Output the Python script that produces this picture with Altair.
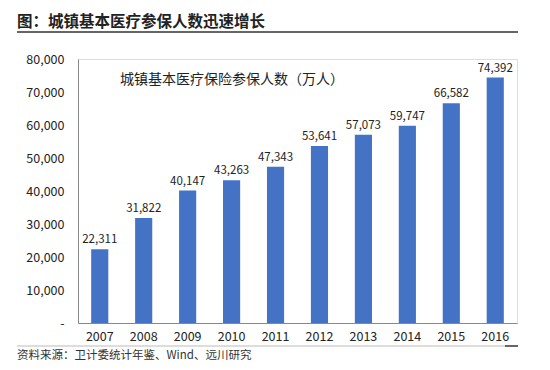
import altair as alt
import pandas as pd

years = ["2007", "2008", "2009", "2010", "2011", "2012", "2013", "2014", "2015", "2016"]
values = [22311, 31822, 40147, 43263, 47343, 53641, 57073, 59747, 66582, 74392]
y_ticks = [0, 10000, 20000, 30000, 40000, 50000, 60000, 70000, 80000]

title_text = "图：城镇基本医疗参保人数迅速增长"
inner_label = "城镇基本医疗保险参保人数（万人）"
source_text = "资料来源：卫计委统计年鉴、Wind、远川研究"

df = pd.DataFrame({"year": years, "value": values})

FONT = "Noto Sans CJK SC"
W, H = 439, 264
TOP = 51

x = alt.X("year:N", title=None, sort=years,
          scale=alt.Scale(paddingInner=0.61, paddingOuter=0.3),
          axis=alt.Axis(labelAngle=0, ticks=False, domainColor="#888888",
                        labelFontSize=12.5, labelColor="#222222", labelPadding=7,
                        labelFont=FONT))
y = alt.Y("value:Q", title=None,
          scale=alt.Scale(domain=[0, 80000]),
          axis=alt.Axis(values=y_ticks, ticks=False, grid=False, labelOverlap=False,
                        domainColor="#888888", labelFontSize=12.5,
                        labelColor="#222222", labelPadding=14, labelFont=FONT,
                        labelExpr="datum.value == 0 ? '-' : format(datum.value, ',')"))

base = alt.Chart(df).encode(x=x, y=y)
bars = base.mark_bar(color="#4472C4")
labels = base.mark_text(dy=-9, fontSize=11.5, color="#222222", font=FONT).encode(
    text=alt.Text("value:Q", format=","))

deco = pd.DataFrame({"t": [0]})
title = alt.Chart(deco).mark_text(align="left", baseline="middle", fontSize=15.5,
                                  fontWeight="bold", color="#222222", font=FONT).encode(
    x=alt.value(-61), y=alt.value(22 - 8 - TOP), text=alt.value(title_text))
underline = alt.Chart(deco).mark_rule(color="#333333", strokeWidth=1.5).encode(
    x=alt.value(-61), x2=alt.value(440), y=alt.value(32 - 8 - TOP))
inner = alt.Chart(deco).mark_text(align="left", baseline="middle", fontSize=14,
                                  color="#222222", font=FONT).encode(
    x=alt.value(42), y=alt.value(80 - 8 - TOP), text=alt.value(inner_label))
bottom_line = alt.Chart(deco).mark_rule(color="#bbbbbb", strokeWidth=1).encode(
    x=alt.value(-61), x2=alt.value(427), y=alt.value(346 - 8 - TOP))
bottom_mark = alt.Chart(deco).mark_rule(color="#333333", strokeWidth=1.5).encode(
    x=alt.value(427), x2=alt.value(440), y=alt.value(346 - 8 - TOP))
source = alt.Chart(deco).mark_text(align="left", baseline="middle", fontSize=11.5,
                                   color="#333333", font=FONT).encode(
    x=alt.value(-61), y=alt.value(356 - 8 - TOP), text=alt.value(source_text))

chart = alt.layer(bars, labels, title, underline, inner, bottom_line, bottom_mark, source).properties(
    width=W, height=H,
    autosize=alt.AutoSizeParams(type="none"),
    padding={"left": 70, "top": TOP, "right": 25, "bottom": 354 - TOP - H},
).configure_view(stroke=None).configure(background="white")

chart.save("out.html", embed_options={"renderer": "svg", "actions": False})
